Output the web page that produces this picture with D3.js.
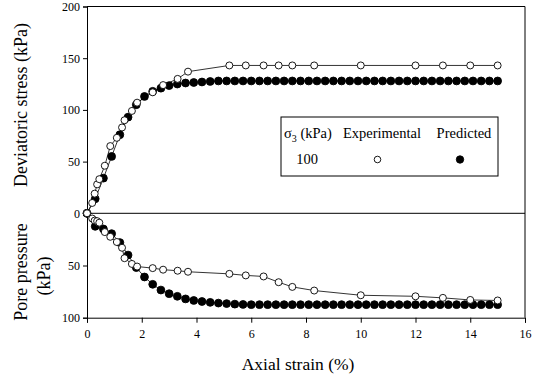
<!DOCTYPE html>
<html>
<head>
<meta charset="utf-8">
<script src="https://cdn.jsdelivr.net/npm/d3@7"></script>
<style>
  body { margin: 0; background: #fff; }
  svg text { font-family: "Liberation Serif", "Times New Roman", Times, "DejaVu Serif", serif; fill: #000; }
</style>
</head>
<body>
<div class="chart"></div>
<script>
// experimental points (open circles)
const expStrain = [0, 0.19, 0.28, 0.37, 0.45, 0.65, 0.85, 1.09, 1.28, 1.37, 1.64, 1.83, 2.4, 2.78, 3.31, 3.69, 5.2, 5.8, 6.45, 7.0, 7.5, 8.3, 10, 12, 13, 14, 15];
const expStress = [0, 10, 19, 28, 33, 46, 65, 73, 83, 90, 99, 107, 117, 124, 130, 137, 143, 143, 143, 143, 143, 143, 143, 143, 143, 143, 143];
const expPore = [0, 5, 7, 7.5, 9, 18, 22.5, 27.5, 33, 43, 48.5, 51, 52.5, 54, 55, 56, 58, 59.5, 60.5, 66, 70.5, 74, 78.5, 79.5, 81, 83, 83.5];

// predicted points (filled circles)
const predStrain = [0, 0.3, 0.6, 0.9, 1.2, 1.5, 1.8, 2.1, 2.4, 2.7, 3.0, 3.3, 3.6, 3.9, 4.2, 4.5, 4.8, 5.1, 5.4, 5.7,
  6.0, 6.3, 6.6, 6.9, 7.2, 7.5, 7.8, 8.1, 8.4, 8.7, 9.0, 9.3, 9.6, 9.9, 10.2, 10.5, 10.8, 11.1, 11.4, 11.7,
  12.0, 12.3, 12.6, 12.9, 13.2, 13.5, 13.8, 14.1, 14.4, 14.7, 15.0];
const predStress = [0, 14, 34, 55, 76, 93, 105, 113, 118, 121, 123.5, 125, 126, 126.5, 127, 127.5, 128, 128, 128, 128,
  128, 128, 128, 128, 128, 128, 128, 128, 128, 128, 128, 128, 128, 128, 128, 128, 128, 128, 128, 128,
  128, 128, 128, 128, 128, 128, 128, 128, 128, 128, 128];
const predPore = [0, 12.5, 15, 19.5, 28, 40, 52, 61, 68, 73.5, 77, 79.5, 82, 83.5, 84.5, 85.3, 86, 86.5, 87, 87.3,
  87.5, 87.5, 87.5, 87.5, 87.5, 87.5, 87.5, 87.5, 87.5, 87.5, 87.5, 87.5, 87.5, 87.5, 87.5, 87.5, 87.5, 87.5, 87.5, 87.5,
  87.5, 87.5, 87.5, 87.5, 87.5, 87.5, 87.5, 87.5, 87.5, 87.5, 87.5];

// tick labels
const xTicks = [0, 2, 4, 6, 8, 10, 12, 14, 16];
const stressTicks = [0, 50, 100, 150, 200];
const poreTicks = [50, 100];

const width = 536;
const height = 378;
const serif = '"Liberation Serif", "Times New Roman", Times, "DejaVu Serif", serif';

const svg = d3.select(".chart")
  .append("svg")
  .attr("width", width)
  .attr("height", height)
  .attr("font-family", serif);

// scales - top and bottom panels share the zero line
const x = d3.scaleLinear().domain([0, 16]).range([87, 525]);
const yTop = d3.scaleLinear().domain([0, 200]).range([213.3, 6.5]);
const yBot = d3.scaleLinear().domain([0, 100]).range([213.3, 317.7]);

const g = svg.append("g");

// frame: top, right, zero line
g.append("line").attr("x1", x(0)).attr("x2", x(16)).attr("y1", yTop(200)).attr("y2", yTop(200))
  .attr("stroke", "#000").attr("stroke-width", 1);
g.append("line").attr("x1", x(16)).attr("x2", x(16)).attr("y1", yTop(200)).attr("y2", yBot(100))
  .attr("stroke", "#000").attr("stroke-width", 1);
g.append("line").attr("x1", x(0)).attr("x2", x(16)).attr("y1", yTop(0)).attr("y2", yTop(0))
  .attr("stroke", "#000").attr("stroke-width", 1);

// axes
const axisTop = g.append("g")
  .attr("transform", `translate(${x(0)},0)`)
  .call(d3.axisLeft(yTop).tickValues(stressTicks).tickSize(4).tickPadding(3));
const axisBot = g.append("g")
  .attr("transform", `translate(${x(0)},0)`)
  .call(d3.axisLeft(yBot).tickValues(poreTicks).tickSize(4).tickPadding(3));
const axisX = g.append("g")
  .attr("transform", `translate(0,${yBot(100)})`)
  .call(d3.axisBottom(x).tickValues(xTicks).tickSize(5).tickPadding(7));

[axisTop, axisBot, axisX].forEach((a) => {
  a.attr("font-family", serif).attr("font-size", 12);
  a.select(".domain").attr("stroke", "#000");
  a.selectAll(".tick line").attr("stroke", "#000");
  a.selectAll(".tick text").attr("fill", "#000");
});

// series
const line = d3.line().x((d) => x(d[0])).y((d) => d[1]);

const drawSeries = (strain, values, yScale, filled) => {
  const pts = strain.map((s, i) => [s, yScale(values[i])]);
  g.append("path")
    .attr("d", line(pts))
    .attr("fill", "none")
    .attr("stroke", "#000")
    .attr("stroke-width", 0.8);
  g.append("g")
    .selectAll("circle")
    .data(pts)
    .join("circle")
    .attr("cx", (d) => x(d[0]))
    .attr("cy", (d) => d[1])
    .attr("r", filled ? 3.9 : 3.5)
    .attr("fill", filled ? "#000" : "#fff")
    .attr("stroke", "#000")
    .attr("stroke-width", 0.9);
};

drawSeries(predStrain, predStress, yTop, true);
drawSeries(predStrain, predPore, yBot, true);
drawSeries(expStrain, expStress, yTop, false);
drawSeries(expStrain, expPore, yBot, false);

// legend
const legend = g.append("g").attr("font-size", 14.5);
legend.append("rect")
  .attr("x", 281).attr("y", 117).attr("width", 217).attr("height", 59)
  .attr("fill", "#fff").attr("stroke", "#000").attr("stroke-width", 1);

const sigma = legend.append("text").attr("x", 284).attr("y", 138);
sigma.append("tspan").text("σ");
sigma.append("tspan").attr("dy", 4).attr("font-size", 10).text("3");
sigma.append("tspan").attr("dy", -4).text(" (kPa)");

legend.append("text").attr("x", 382).attr("y", 138).attr("text-anchor", "middle").text("Experimental");
legend.append("text").attr("x", 464).attr("y", 138).attr("text-anchor", "middle").text("Predicted");
legend.append("text").attr("x", 307).attr("y", 164).attr("text-anchor", "middle").text("100");
legend.append("circle").attr("cx", 377.5).attr("cy", 159.5).attr("r", 3.3)
  .attr("fill", "#fff").attr("stroke", "#000").attr("stroke-width", 0.9);
legend.append("circle").attr("cx", 460).attr("cy", 159.5).attr("r", 3.7)
  .attr("fill", "#000").attr("stroke", "#000").attr("stroke-width", 0.9);

// axis titles
svg.append("text")
  .attr("transform", "translate(27,105) rotate(-90)")
  .attr("text-anchor", "middle")
  .attr("font-size", 18)
  .text("Deviatoric stress (kPa)");
svg.append("text")
  .attr("transform", "translate(27,272) rotate(-90)")
  .attr("text-anchor", "middle")
  .attr("font-size", 18)
  .text("Pore pressure");
svg.append("text")
  .attr("transform", "translate(50,276) rotate(-90)")
  .attr("text-anchor", "middle")
  .attr("font-size", 18)
  .text("(kPa)");
svg.append("text")
  .attr("x", 298).attr("y", 370)
  .attr("text-anchor", "middle")
  .attr("font-size", 17.5)
  .text("Axial strain (%)");
</script>
</body>
</html>
